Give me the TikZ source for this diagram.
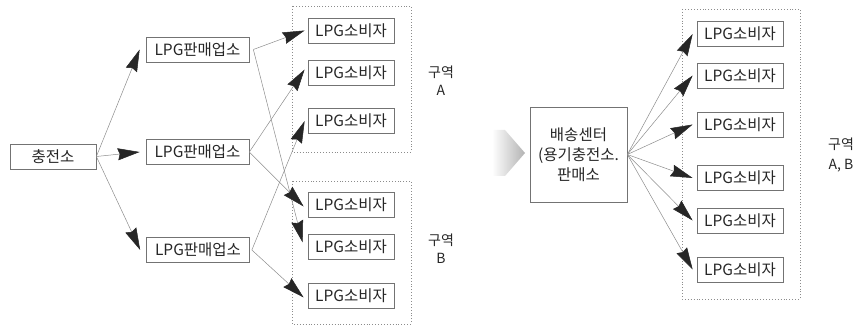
\documentclass[tikz,border=0pt]{standalone}
\usepackage{fontspec}
\setmainfont{Noto Sans CJK KR}
\usetikzlibrary{arrows.meta}
\begin{document}
\begin{tikzpicture}[x=1pt,y=-1pt,
  box/.style={draw=black!55,line width=0.7pt,inner sep=0pt,font=\fontsize{15.5}{18}\selectfont,text=black!85},
  cons/.style={box,minimum width=86pt,minimum height=25pt},
  seller/.style={box,minimum width=103pt,minimum height=25pt},
  zone/.style={draw=black!45,dotted,line width=0.9pt},
  lbl/.style={font=\fontsize{14}{18}\selectfont,text=black!85,align=center},
  link/.style={draw=black!45,line width=0.5pt,-{Stealth[length=22pt,width=12pt,inset=2pt,color=black!85]}}
]
\useasboundingbox (0,0) rectangle (863,326);
% zones
\draw[zone] (292,6) rectangle (411,152);
\draw[zone] (292,181) rectangle (411,324);
\draw[zone] (682,9) rectangle (800,299);
% left nodes
\node[box,minimum width=86pt,minimum height=25pt] (st) at (53,156.5) {충전소};
\node[seller] (s1) at (197.5,49.5) {LPG판매업소};
\node[seller] (s2) at (197.5,152) {LPG판매업소};
\node[seller] (s3) at (198,250) {LPG판매업소};
\node[cons] (a1) at (351,30.5) {LPG소비자};
\node[cons] (a2) at (351,72.5) {LPG소비자};
\node[cons] (a3) at (351,121) {LPG소비자};
\node[cons] (b1) at (351,204.5) {LPG소비자};
\node[cons] (b2) at (351,246.5) {LPG소비자};
\node[cons] (b3) at (351,295.5) {LPG소비자};
\node[lbl] (za) at (441,81) {구역\\A};
\node[lbl] (zb) at (441,248.5) {구역\\B};
% left arrows
\draw[link] (st.east) -- ([xshift=-6pt]s1.west);
\draw[link] (st.east) -- ([xshift=-6pt]s2.west);
\draw[link] (st.east) -- ([xshift=-6pt]s3.west);
\draw[link] ([xshift=4pt]s1.east) -- ([xshift=-3pt]a1.west);
\draw[link] ([xshift=4pt]s1.east) -- ([xshift=-5pt,yshift=4pt]b2.west);
\draw[link] (s2.east) -- ([xshift=-3pt,yshift=3pt]a2.west);
\draw[link] (s2.east) -- ([xshift=-4pt,yshift=-2pt]b1.west);
\draw[link] ([xshift=2pt]s3.east) -- ([xshift=-3pt]a3.west);
\draw[link] ([xshift=2pt]s3.east) -- ([xshift=-4pt,yshift=-2pt]b3.west);
% right part
\shade[left color=white,right color=black!30,draw=none] (492,130) -- (505,130) -- (525,153) -- (505,176) -- (492,176) -- cycle;
\node[box,minimum width=97pt,minimum height=95pt,align=center,font=\fontsize{15.5}{20}\selectfont] (dc) at (578.5,154.5) {배송센터\\(용기충전소.\\판매소};
\node[cons] (c1) at (740,34) {LPG소비자};
\node[cons] (c2) at (740,75.5) {LPG소비자};
\node[cons] (c3) at (740,124.5) {LPG소비자};
\node[cons] (c4) at (740,178) {LPG소비자};
\node[cons] (c5) at (740,220.5) {LPG소비자};
\node[cons] (c6) at (740,269.5) {LPG소비자};
\node[lbl,font=\fontsize{14}{20}\selectfont] (zab) at (841,155) {구역\\A, B};
\foreach \c in {c1,c2,c3,c4,c5,c6}
  \draw[link] (dc.east) -- ([xshift=-4pt]\c.west);
\end{tikzpicture}
\end{document}
